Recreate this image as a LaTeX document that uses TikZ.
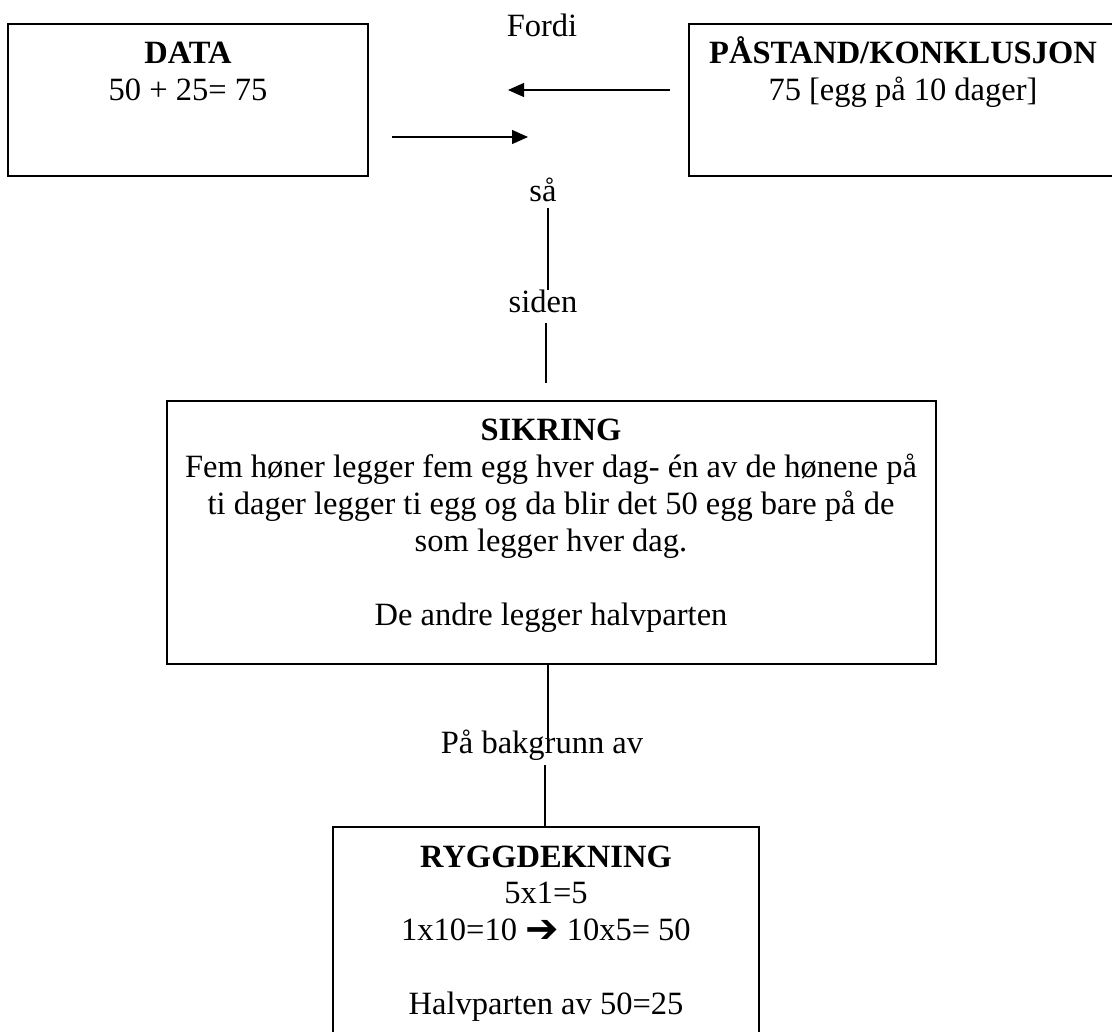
\documentclass[tikz,border=0pt]{standalone}
\usepackage{fontspec}
\setmainfont{Liberation Serif}
\newfontfamily\arrfont{DejaVu Sans}
\usetikzlibrary{arrows.meta}
\begin{document}
\begin{tikzpicture}[x=1pt,y=-1pt,
  box/.style={draw, line width=1.2pt, inner sep=0pt, outer sep=0pt},
  txt/.style={anchor=base, inner sep=0pt, font=\fontsize{32.5}{37}\selectfont},
  ttl/.style={anchor=base, inner sep=0pt, font=\fontsize{32.5}{37}\selectfont\bfseries},
  conn/.style={line width=1.2pt},
  arrowline/.style={line width=1.2pt, -{Triangle[length=16pt,width=14pt]}}]
\useasboundingbox (0,0) rectangle (1112,1032);
% boxes
\node[box, minimum width=360pt, minimum height=152pt] (data) at (188,100) {};
\node[box, minimum width=428pt, minimum height=152pt] (paastand) at (903,100) {};
\node[box, minimum width=769pt, minimum height=263pt] (sikring) at (551.5,532.5) {};
\node[box, minimum width=426pt, minimum height=240pt] (rygg) at (546,947) {};
% box texts
\node[ttl] (dataT) at (188,64) {DATA};
\node[txt] (dataL) at (188,101) {50 + 25= 75};
\node[ttl] (paaT) at (903,64) {PÅSTAND/KONKLUSJON};
\node[txt] (paaL) at (903,101) {75 [egg på 10 dager]};
\node[ttl] (sikT) at (551,440) {SIKRING};
\node[txt] (sikL1) at (551,477) {Fem høner legger fem egg hver dag- én av de hønene på};
\node[txt] (sikL2) at (551,514) {ti dager legger ti egg og da blir det 50 egg bare på de};
\node[txt] (sikL3) at (551,551) {som legger hver dag.};
\node[txt] (sikL4) at (551,625) {De andre legger halvparten};
\node[ttl] (ryggT) at (546,867) {RYGGDEKNING};
\node[txt] (ryggL1) at (546,903) {5x1=5};
\node[txt] (ryggL2) at (546,940) {1x10=10 \raisebox{-2pt}{\arrfont\fontsize{40}{37}\selectfont ➔} 10x5= 50};
\node[txt] (ryggL3) at (546,1014) {Halvparten av 50=25};
% connector labels
\node[txt] (fordi) at (542,37) {Fordi};
\node[txt] (saa) at (543,202) {så};
\node[txt] (siden) at (543,313) {siden};
\node[txt] (bakgrunn) at (542,753) {På bakgrunn av};
% connector end points
\coordinate (a1s) at (670,90);
\coordinate (a1e) at (508,90);
\coordinate (a2s) at (392,137);
\coordinate (a2e) at (528,137);
\coordinate (l1a) at (548,208);
\coordinate (l2a) at (546,323);
\coordinate (l2b) at (546,383);
\coordinate (l3b) at (548,738);
\coordinate (l4a) at (545,765);
% connectors
\draw[arrowline] (a1s) -- (a1e);
\draw[arrowline] (a2s) -- (a2e);
\draw[conn] (l1a) -- (l1a |- siden.north);
\draw[conn] (l2a) -- (l2b);
\draw[conn] (l3b |- sikring.south) -- (l3b);
\draw[conn] (l4a) -- (l4a |- rygg.north);
\end{tikzpicture}
\end{document}
